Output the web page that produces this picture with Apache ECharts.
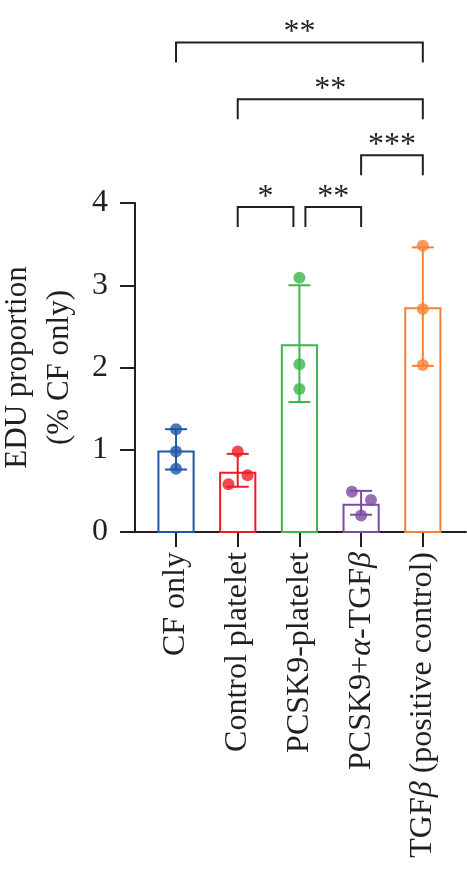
<!DOCTYPE html>
<html lang="en">
<head>
<meta charset="UTF-8">
<title>EDU proportion</title>
<script src="https://cdn.jsdelivr.net/npm/echarts@6/dist/echarts.min.js"></script>
<style>
  html, body { margin: 0; padding: 0; background: #fff; }
  #main { width: 467px; height: 877px; }
</style>
</head>
<body>
<div id="main"></div>
<script>
  // groups on the x axis
  var groups = ['CF only', 'Control platelet', 'PCSK9-platelet', 'PCSK9+α-TGFβ', 'TGFβ (positive control)'];
  // bar height (mean) and error bar ends
  var means = [0.98, 0.72, 2.27, 0.33, 2.72];
  var errHigh = [1.25, 0.95, 3.0, 0.5, 3.46];
  var errLow = [0.76, 0.55, 1.58, 0.21, 2.02];
  // the three replicates of each group
  var points = [
    [1.25, 0.98, 0.77],
    [0.98, 0.69, 0.58],
    [3.09, 2.04, 1.74],
    [0.49, 0.39, 0.20],
    [3.48, 2.71, 2.03]
  ];
  // significance brackets: from group, to group, height, stars
  var brackets = [
    [0, 4, 5.95, '**'],
    [1, 4, 5.26, '**'],
    [3, 4, 4.58, '***'],
    [1, 2, 3.95, '*'],
    [2, 3, 3.95, '**']
  ];
  var yTicks = [0, 1, 2, 3, 4];

  var colors = ['#1f56a5', '#ec1c24', '#3db54a', '#7a4b9f', '#f58233'];
  var ink = '#231f20';
  var serif = '"Liberation Serif", "Times New Roman", serif';
  // sideways shift of the dots so they don't overlap
  var jitter = [[0, 0, 0], [0, 0.16, -0.15], [0, 0, 0], [-0.15, 0.16, 0], [0, 0, 0]];

  var chartDom = document.getElementById('main');
  var myChart = echarts.init(chartDom);
  var option;

  var dotData = [];
  points.forEach(function (vals, i) {
    vals.forEach(function (v, k) {
      dotData.push({ value: [i + jitter[i][k], v], itemStyle: { color: colors[i] } });
    });
  });

  option = {
    animation: false,
    backgroundColor: '#fff',
    grid: { left: 135, right: 1, top: 203, bottom: 345, outerBoundsMode: 'none' },
    xAxis: {
      type: 'value',
      min: -0.665,
      max: 4.70,
      splitLine: { show: false },
      axisLine: { onZero: false, lineStyle: { color: ink, width: 2 } },
      axisTick: {
        customValues: [0, 1, 2, 3, 4],
        length: 15,
        lineStyle: { color: ink, width: 2 }
      },
      axisLabel: {
        customValues: [0, 1, 2, 3, 4],
        rotate: 90,
        margin: 20,
        fontSize: 32,
        fontFamily: serif,
        color: ink,
        formatter: function (v) {
          return groups[v].replace(/([αβ])/g, '{i|$1}');
        },
        rich: {
          i: { fontSize: 32, fontFamily: serif, fontStyle: 'italic', color: ink }
        }
      }
    },
    yAxis: {
      type: 'value',
      min: yTicks[0],
      max: yTicks[yTicks.length - 1],
      interval: 1,
      name: 'EDU proportion\n(% CF only)',
      nameLocation: 'middle',
      nameGap: 53,
      nameTextStyle: { fontSize: 31, lineHeight: 42, fontFamily: serif, color: ink },
      splitLine: { show: false },
      axisLine: { show: true, onZero: false, lineStyle: { color: ink, width: 2 } },
      axisTick: { show: true, length: 15, lineStyle: { color: ink, width: 2 } },
      axisLabel: { margin: 27, fontSize: 32, fontFamily: serif, color: ink }
    },
    series: [
      {
        // hollow bars
        type: 'custom',
        z: 1,
        data: means.map(function (m, i) { return [i, m]; }),
        encode: { x: 0, y: 1 },
        renderItem: function (params, api) {
          var i = api.value(0);
          var top = api.coord([i, api.value(1)]);
          var base = api.coord([i, 0]);
          var half = 17.6;
          return {
            type: 'rect',
            shape: { x: top[0] - half, y: top[1], width: half * 2, height: base[1] - top[1] },
            style: { fill: 'none', stroke: colors[i], lineWidth: 2 }
          };
        }
      },
      {
        // error bars
        type: 'custom',
        z: 2,
        data: means.map(function (m, i) { return [i, errLow[i], errHigh[i]]; }),
        encode: { x: 0, y: [1, 2] },
        renderItem: function (params, api) {
          var i = api.value(0);
          var lo = api.coord([i, api.value(1)]);
          var hi = api.coord([i, api.value(2)]);
          var cap = 11;
          var st = { stroke: colors[i], lineWidth: 2 };
          return {
            type: 'group',
            children: [
              { type: 'line', shape: { x1: lo[0], y1: lo[1], x2: hi[0], y2: hi[1] }, style: st },
              { type: 'line', shape: { x1: hi[0] - cap, y1: hi[1], x2: hi[0] + cap, y2: hi[1] }, style: st },
              { type: 'line', shape: { x1: lo[0] - cap, y1: lo[1], x2: lo[0] + cap, y2: lo[1] }, style: st }
            ]
          };
        }
      },
      {
        type: 'scatter',
        z: 3,
        symbolSize: 12,
        data: dotData
      },
      {
        // significance brackets above the plot
        type: 'custom',
        z: 4,
        clip: false,
        data: brackets.map(function (b) { return [b[0], b[1], b[2]]; }),
        encode: { x: [0, 1], y: 2 },
        renderItem: function (params, api) {
          var b = brackets[params.dataIndex];
          var p1 = api.coord([b[0], b[2]]);
          var p2 = api.coord([b[1], b[2]]);
          var x1 = p1[0], x2 = p2[0], y = p1[1];
          // leave a small gap where two brackets at the same height meet
          brackets.forEach(function (o, k) {
            if (k === params.dataIndex || o[2] !== b[2]) return;
            if (o[1] === b[0]) x1 += 6;
            if (o[0] === b[1]) x2 -= 6;
          });
          var leg = 20;
          return {
            type: 'group',
            children: [
              {
                type: 'polyline',
                shape: { points: [[x1, y + leg], [x1, y], [x2, y], [x2, y + leg]] },
                style: { fill: 'none', stroke: ink, lineWidth: 2, lineJoin: 'miter' }
              },
              {
                type: 'text',
                x: (x1 + x2) / 2,
                y: y - 10,
                style: {
                  text: b[3],
                  fontSize: 32,
                  fontFamily: serif,
                  fill: ink,
                  align: 'center',
                  verticalAlign: 'middle'
                }
              }
            ]
          };
        }
      }
    ]
  };

  option && myChart.setOption(option);
</script>
</body>
</html>
